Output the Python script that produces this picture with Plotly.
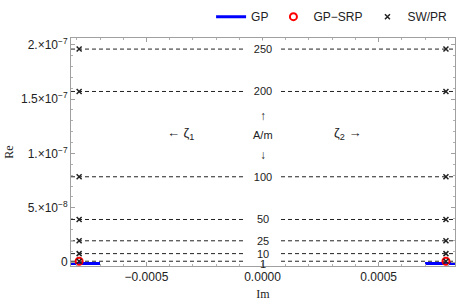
import plotly.graph_objects as go

# --- data ---
field_labels = ["10", "25", "50", "100", "200", "250", "1"]  # A/m
re_values = [7.8e-9, 1.96e-8, 3.92e-8, 7.85e-8, 1.57e-7, 1.96e-7, 7.8e-10]
im_left = -0.00079
im_right = 0.00079
x_range = [-0.000825, 0.000829]
y_range = [-3.6e-9, 2.062e-7]

gp_x = [-0.00083, -0.00070, None, 0.00070, 0.00083]
gp_y = [-1.3e-9, -1.3e-9, None, -1.3e-9, -1.3e-9]
srp_x = [im_left, im_right]
srp_y = [7.8e-10, 7.8e-10]

y_tickvals = [0, 5e-8, 1e-7, 1.5e-7, 2e-7]
y_ticktext = ["0", "5.×10<sup>−8</sup>", "1.×10<sup>−7</sup>",
              "1.5×10<sup>−7</sup>", "2.×10<sup>−7</sup>"]
x_tickvals = [-0.0005, 0.0, 0.0005]
x_ticktext = ["−0.0005", "0.0000", "0.0005"]

FONT = "Liberation Sans"
INK = "#222222"
fig = go.Figure()

# dashed reference lines
for v in re_values:
    fig.add_trace(go.Scatter(
        x=x_range, y=[v, v], mode="lines",
        line=dict(color=INK, width=1, dash="4px,3px"),
        showlegend=False, hoverinfo="skip"))

fig.add_trace(go.Scatter(
    x=gp_x, y=gp_y, mode="lines", name="GP",
    line=dict(color="#0000ff", width=3)))
fig.add_trace(go.Scatter(
    x=srp_x, y=srp_y, mode="markers", name="GP−SRP",
    marker=dict(symbol="circle-open", size=7, color="#ff0000",
                line=dict(width=2, color="#ff0000"))))
sw_x = [im_left] * len(re_values) + [im_right] * len(re_values)
sw_y = re_values + re_values
fig.add_trace(go.Scatter(
    x=sw_x, y=sw_y, mode="markers", name="SW/PR",
    marker=dict(symbol="x-thin", size=5, color=INK,
                line=dict(width=1.5, color=INK))))

annotations = []
for lab, v in zip(field_labels, re_values):
    is_one = lab == "1"
    annotations.append(dict(
        x=0, y=v, xref="x", yref="y", text=lab, showarrow=False,
        font=dict(family=FONT, size=11, color=INK),
        bgcolor="rgba(0,0,0,0)" if is_one else "white",
        borderpad=0 if is_one else 2, xanchor="center", yanchor="middle",
        width=None if is_one else 30,
        yshift=-3 if is_one else 0))

annotations += [
    dict(x=-0.000355, y=1.186e-7, xref="x", yref="y", text="← ζ<sub>1</sub>",
         showarrow=False, font=dict(family=FONT, size=13, color=INK)),
    dict(x=0.000365, y=1.186e-7, xref="x", yref="y", text="ζ<sub>2</sub> →",
         showarrow=False, font=dict(family=FONT, size=13, color=INK)),
    dict(x=0, y=1.345e-7, xref="x", yref="y", text="↑",
         showarrow=False, font=dict(family=FONT, size=12, color=INK)),
    dict(x=0, y=1.17e-7, xref="x", yref="y", text="A/m",
         showarrow=False, font=dict(family=FONT, size=11, color=INK)),
    dict(x=0, y=0.99e-7, xref="x", yref="y", text="↓",
         showarrow=False, font=dict(family=FONT, size=12, color=INK)),
]

fig.update_layout(
    width=457, height=306,
    margin=dict(l=71, r=2, t=29, b=40),
    paper_bgcolor="white", plot_bgcolor="white",
    font=dict(family=FONT, size=12, color=INK),
    annotations=annotations,
    legend=dict(orientation="h", x=0.995, xanchor="right", y=1.03,
                yanchor="bottom",
                font=dict(family=FONT, size=12, color=INK),
                itemwidth=30, bgcolor="rgba(0,0,0,0)"),
)
fig.update_xaxes(
    range=x_range, tickvals=x_tickvals, ticktext=x_ticktext,
    tickfont=dict(size=12),
    showgrid=False, zeroline=False, showline=True, linecolor="#a0a0a0",
    linewidth=1, mirror="ticks", ticks="inside", ticklen=4,
    tickcolor="#a0a0a0",
    minor=dict(dtick=0.0001, tick0=0, ticks="inside", ticklen=2,
               tickcolor="#b0b0b0"),
    title=dict(text="Im", standoff=6,
               font=dict(family="Liberation Serif", size=12)),
)
fig.update_yaxes(
    range=y_range, tickvals=y_tickvals, ticktext=y_ticktext,
    tickfont=dict(size=12),
    showgrid=False, zeroline=False, showline=True, linecolor="#a0a0a0",
    linewidth=1, mirror="ticks", ticks="inside", ticklen=4,
    tickcolor="#a0a0a0",
    minor=dict(dtick=1e-8, tick0=0, ticks="inside", ticklen=2,
               tickcolor="#b0b0b0"),
    title=dict(text="Re", standoff=4,
               font=dict(family="Liberation Serif", size=12)),
)
fig.write_html("out.html",
               config={"displayModeBar": False},
               post_script="document.body.style.margin='0';"
                           "document.body.style.overflow='hidden';")
